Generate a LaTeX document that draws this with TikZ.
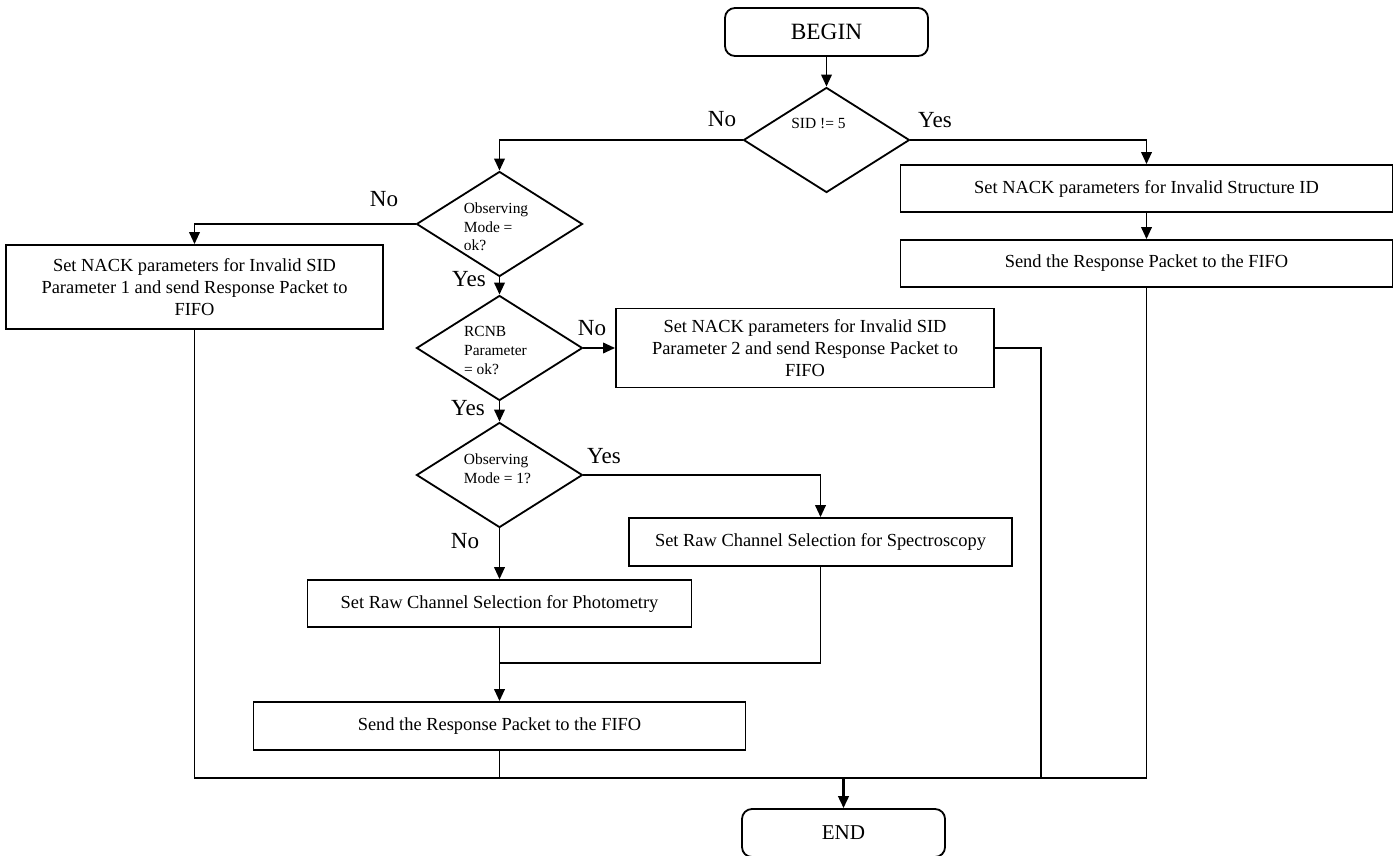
\documentclass[tikz,border=0pt]{standalone}
\usepackage{fontspec}
\setmainfont{Liberation Serif}
\usetikzlibrary{shapes.geometric, arrows.meta}

\begin{document}
\begin{tikzpicture}[x=0.025cm, y=-0.025cm, line width=1.3pt, >={Triangle[length=8.5pt,width=7.5pt]},
    process/.style={draw, rectangle, align=center, inner sep=0pt, font=\fontsize{13.1}{15.6}\selectfont},
    terminal/.style={draw, rectangle, rounded corners=0.25cm, minimum width=5.075cm, minimum height=1.2cm, font=\fontsize{16.6}{20}\selectfont},
    decision/.style={draw, diamond, minimum width=4.15cm, minimum height=2.625cm, inner sep=0pt},
    dtext/.style={align=left, inner sep=0pt, font=\fontsize{11}{13.2}\selectfont},
    answer/.style={inner sep=0pt, font=\fontsize{16.4}{19}\selectfont}]

    \useasboundingbox (0,0) rectangle (1400,855);

    % --- Start and first check ---
    \node[terminal] (begin) at (826.5,32) {BEGIN};
    \node[decision, label={[dtext, name=sidtxt, xshift=-0.2cm, yshift=0.425cm]center:SID != 5}] (sid) at (826.5,140) {};

    % --- Right branch: invalid structure ---
    \node[process, minimum width=12.3cm, minimum height=1.175cm] (struct) at (1146.5,188.5) {Set NACK parameters for Invalid Structure ID};
    \node[process, minimum width=12.3cm, minimum height=1.175cm] (send1) at (1146.5,263.5) {Send the Response Packet to the FIFO};

    % --- Middle column of checks ---
    \node[decision, label={[dtext, name=obs1txt, xshift=-0.0875cm, yshift=-0.075cm]center:Observing\\Mode =\\ok?}] (obs1) at (499.5,224) {};
    \node[decision, label={[dtext, name=rcnbtxt, xshift=-0.1cm, yshift=-0.0625cm]center:RCNB\\Parameter\\= ok?}] (rcnb) at (499.5,348) {};
    \node[decision, label={[dtext, name=obs2txt, xshift=-0.05cm, yshift=0.1625cm]center:Observing\\Mode = 1?}] (obs2) at (499.5,475) {};

    % --- NACK boxes ---
    \node[process, minimum width=9.425cm, minimum height=2.1cm] (nack1) at (194.5,287) {Set NACK parameters for Invalid SID\\Parameter 1 and send Response Packet to\\FIFO};
    \node[process, minimum width=9.45cm, minimum height=1.975cm] (nack2) at (805,348) {Set NACK parameters for Invalid SID\\Parameter 2 and send Response Packet to\\FIFO};

    % --- Channel selection ---
    \node[process, minimum width=9.575cm, minimum height=1.2cm] (spec) at (820.5,542) {Set Raw Channel Selection for Spectroscopy};
    \node[process, minimum width=9.6cm, minimum height=1.175cm] (photo) at (499.5,603.5) {Set Raw Channel Selection for Photometry};
    \node[process, minimum width=12.3cm, minimum height=1.2cm] (send2) at (499.5,726) {Send the Response Packet to the FIFO};

    % --- End ---
    \node[terminal, font=\fontsize{15}{18}\selectfont] (end) at (843.5,833) {END};

    % --- Yes / No labels ---
    \node[answer] (sidno) at (722,119) {No};
    \node[answer] (sidyes) at (935,120) {Yes};
    \node[answer] (obs1no) at (384,199) {No};
    \node[answer] (obs1yes) at (469,279) {Yes};
    \node[answer] (rcnbno) at (592,328) {No};
    \node[answer] (rcnbyes) at (468,408) {Yes};
    \node[answer] (obs2yes) at (604,456) {Yes};
    \node[answer] (obs2no) at (465,541) {No};

    % --- Turning points ---
    \coordinate (merge) at (499.5,663);
    \coordinate (join) at (843.5,778);
    \coordinate (n2turn) at (1041,348);

    % --- Connectors ---
    \draw[->] (begin) -- (sid);
    \draw[->] (sid.west) -| (obs1.north);
    \draw[->] (sid.east) -| (struct.north);
    \draw[->] (struct) -- (send1);
    \draw[->] (obs1.west) -| (nack1.north);
    \draw[->] (obs1) -- (rcnb);
    \draw[->] (rcnb) -- (nack2);
    \draw[->] (rcnb) -- (obs2);
    \draw[->] (obs2.east) -| (spec.north);
    \draw[->] (obs2) -- (photo);
    \draw (spec.south) |- (merge);
    \draw[->] (photo) -- (send2);

    % --- Return lines to END ---
    \draw (nack1.south) |- (join);
    \draw (send1.south) |- (join);
    \draw (send2.south) -- (send2.south |- join);
    \draw (nack2.east) -- (n2turn) -- (n2turn |- join);
    \draw[->, line width=1.7pt] (join) -- (end);

\end{tikzpicture}
\end{document}
